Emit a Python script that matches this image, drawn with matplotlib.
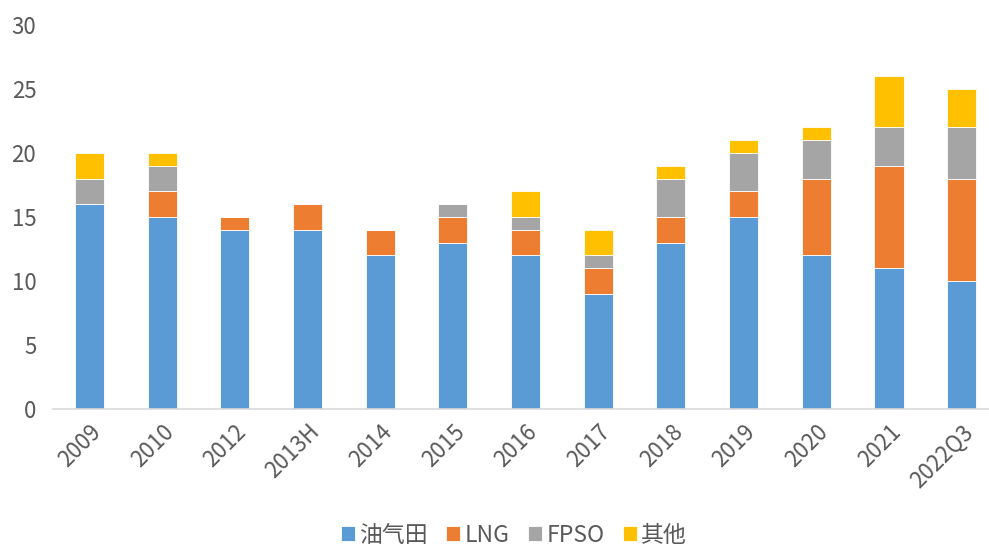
import matplotlib
matplotlib.use("Agg")
import matplotlib.pyplot as plt
import numpy as np

plt.rcParams['font.family'] = ['Noto Sans CJK SC', 'DejaVu Sans']

categories = ["2009", "2010", "2012", "2013H", "2014", "2015", "2016", "2017",
              "2018", "2019", "2020", "2021", "2022Q3"]
oil_gas = [16, 15, 14, 14, 12, 13, 12, 9, 13, 15, 12, 11, 10]
lng = [0, 2, 1, 2, 2, 2, 2, 2, 2, 2, 6, 8, 8]
fpso = [2, 2, 0, 0, 0, 1, 1, 1, 3, 3, 3, 3, 4]
other = [2, 1, 0, 0, 0, 0, 2, 2, 1, 1, 1, 4, 3]
series_names = ["油气田", "LNG", "FPSO", "其他"]
colors = ["#5B9BD5", "#ED7D31", "#A5A5A5", "#FFC000"]

fig = plt.figure(figsize=(9.89, 5.45), dpi=100)
ax = fig.add_axes([53/989, (545-409)/545, (998-53)/989, (409-25)/545])

x = np.arange(len(categories))
bottom = np.zeros(len(categories))
handles = []
for vals, name, c in zip([oil_gas, lng, fpso, other], series_names, colors):
    v = np.array(vals, dtype=float)
    b = ax.bar(x, v, width=0.40, bottom=bottom, color=c, label=name,
               edgecolor="white", linewidth=0.6)
    handles.append(b)
    bottom += v

ax.set_xlim(-0.5, len(categories) - 0.5)
ax.set_ylim(0, 30)
ax.set_yticks([0, 5, 10, 15, 20, 25, 30])
ax.set_xticks(x)
ax.set_xticklabels(categories, rotation=45, ha='right', rotation_mode='anchor')
ax.tick_params(axis='both', length=0, labelsize=16, colors="#595959")
ax.tick_params(axis='x', pad=8)
ax.tick_params(axis='y', pad=12)
for s in ['top', 'right', 'left']:
    ax.spines[s].set_visible(False)
ax.spines['bottom'].set_color("#D9D9D9")
ax.spines['bottom'].set_linewidth(1.2)

fig.legend(handles=handles, labels=series_names, loc='center', ncol=4,
           bbox_to_anchor=(514/989, 1 - 535/545), frameon=False, fontsize=16.5,
           handlelength=0.6, handleheight=0.6, handletextpad=0.2,
           columnspacing=0.8, labelcolor="#595959")

fig.savefig("out.png", dpi=100)
